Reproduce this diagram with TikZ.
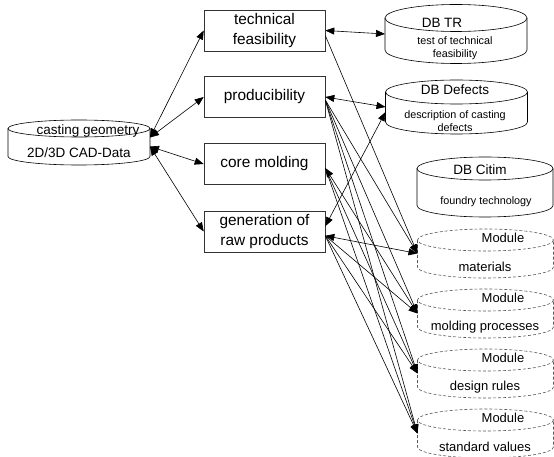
\documentclass[tikz,border=0pt]{standalone}
\usepackage{fontspec}
\setmainfont{Liberation Sans}
\usetikzlibrary{arrows.meta}

\tikzset{
  procbox/.style={draw=black!80, line width=0.6pt, minimum width=121pt, minimum height=41pt,
    inner sep=0pt, align=center, font=\fontsize{15.4}{19.5}\selectfont},
  dbbody/.style={inner sep=0pt, outer sep=0pt},
  dbline/.style={draw=black, line width=0.6pt},
  modline/.style={draw=black!65, line width=0.6pt, dash pattern=on 3pt off 2pt},
  dbtitle/.style={font=\fontsize{13.5}{16}\selectfont, inner sep=0pt},
  dbnote/.style={font=\fontsize{10.8}{13}\selectfont, align=center, inner sep=0pt},
  modtext/.style={font=\fontsize{13}{15}\selectfont, inner sep=0pt},
  oneway/.style={line width=0.6pt, -{Triangle[length=9pt,width=7pt]}},
  twoway/.style={line width=0.6pt, {Triangle[length=9pt,width=7pt]}-{Triangle[length=9pt,width=7pt]}},
}

% style, name, center x, top ellipse y, x radius, y radius, side height
\newcommand{\dbdrum}[7]{%
  \node[dbbody, minimum width={2*#5pt}, minimum height={#7pt}] (#2) at (#3,{#4+#7/2}) {};
  \draw[#1] (#2.north) ellipse [x radius=#5, y radius=#6];
  \draw[#1] (#2.north west) -- (#2.south west)
    arc [start angle=180, end angle=0, x radius=#5, y radius=#6] -- (#2.north east);
}

\begin{document}
\begin{tikzpicture}[x=1pt, y=-1pt]

            \useasboundingbox (0,0) rectangle (554,457);

            % data bases
            \dbdrum{dbline}{geo}{79}{128.5}{71}{8.5}{28}
            \dbdrum{dbline}{tr}{456}{18}{71}{13.5}{32}
            \dbdrum{dbline}{def}{456.5}{92}{71}{12}{30}
            \dbdrum{dbline}{cit}{485}{168.5}{68}{11.5}{37}

            % modules
            \dbdrum{modline}{mat}{485.5}{240}{68}{11}{27}
            \dbdrum{modline}{mold}{485.5}{300}{68}{11}{27}
            \dbdrum{modline}{dsg}{485.5}{360}{68}{11}{27}
            \dbdrum{modline}{std}{485.5}{420}{68}{11}{27}

            \node[dbtitle] (geoT) at (88,131) {casting geometry};
            \node[dbtitle] (geoB) at (79,153) {2D/3D CAD-Data};
            \node[dbtitle] (trT) at (442,23) {DB TR};
            \node[dbnote] (trB) at (455,48) {test of technical\\feasibility};
            \node[dbtitle] (defT) at (455,90) {DB Defects};
            \node[dbnote] (defB) at (455,121.5) {description of casting\\defects};
            \node[dbtitle] (citT) at (480,170) {DB Citim};
            \node[dbnote] (citB) at (486,202) {foundry technology};

            \node[modtext] (matT) at (503,238) {Module};
            \node[modtext] (matB) at (485,267) {materials};
            \node[modtext] (moldT) at (503,298) {Module};
            \node[modtext] (moldB) at (485,327) {molding processes};
            \node[modtext] (dsgT) at (503,358) {Module};
            \node[modtext] (dsgB) at (485,387) {design rules};
            \node[modtext] (stdT) at (503,418) {Module};
            \node[modtext] (stdB) at (485,447) {standard values};

            % tasks
            \node[procbox] (tf) at (264.5,30.5) {technical\\feasibility};
            \node[procbox] (prod) at (264.5,97) {producibility};
            \node[procbox] (core) at (264.5,164) {core molding};
            \node[procbox] (gen) at (264.5,231.5) {generation of\\raw products};

            \draw[twoway] ([yshift=5pt]geo.east) -- (tf.west);
            \draw[twoway] ([yshift=5pt]geo.east) -- (prod.west);
            \draw[twoway] ([yshift=-4pt]geo.east) -- (core.west);
            \draw[twoway] ([yshift=-4pt]geo.east) -- (gen.west);

            \draw[twoway] (tf.east) -- (tr.west);
            \draw[twoway] (prod.east) -- (def.west);
            \draw[twoway] (gen.5) -- ([yshift=-5pt]def.west);
            \draw[twoway] (gen.-4) -- (mat.west);

            \draw[oneway] ([yshift=-5pt]tf.east) -- (mat.west);
            \draw[oneway] ([yshift=-3pt]prod.east) -- (mat.west);
            \draw[oneway] ([yshift=-3pt]prod.east) -- (mold.west);
            \draw[oneway] ([yshift=-3pt]prod.east) -- (dsg.west);
            \draw[oneway] ([yshift=-3pt]prod.east) -- (std.west);

            \draw[twoway] ([yshift=-4pt]core.east) -- (mold.west);
            \draw[oneway] ([yshift=-4pt]core.east) -- (dsg.west);
            \draw[oneway] ([yshift=-4pt]core.east) -- (std.west);

            \draw[oneway] (gen.-4) -- (mold.west);
            \draw[oneway] (gen.-4) -- (dsg.west);
            \draw[oneway] (gen.-4) -- (std.west);

\end{tikzpicture}
\end{document}
